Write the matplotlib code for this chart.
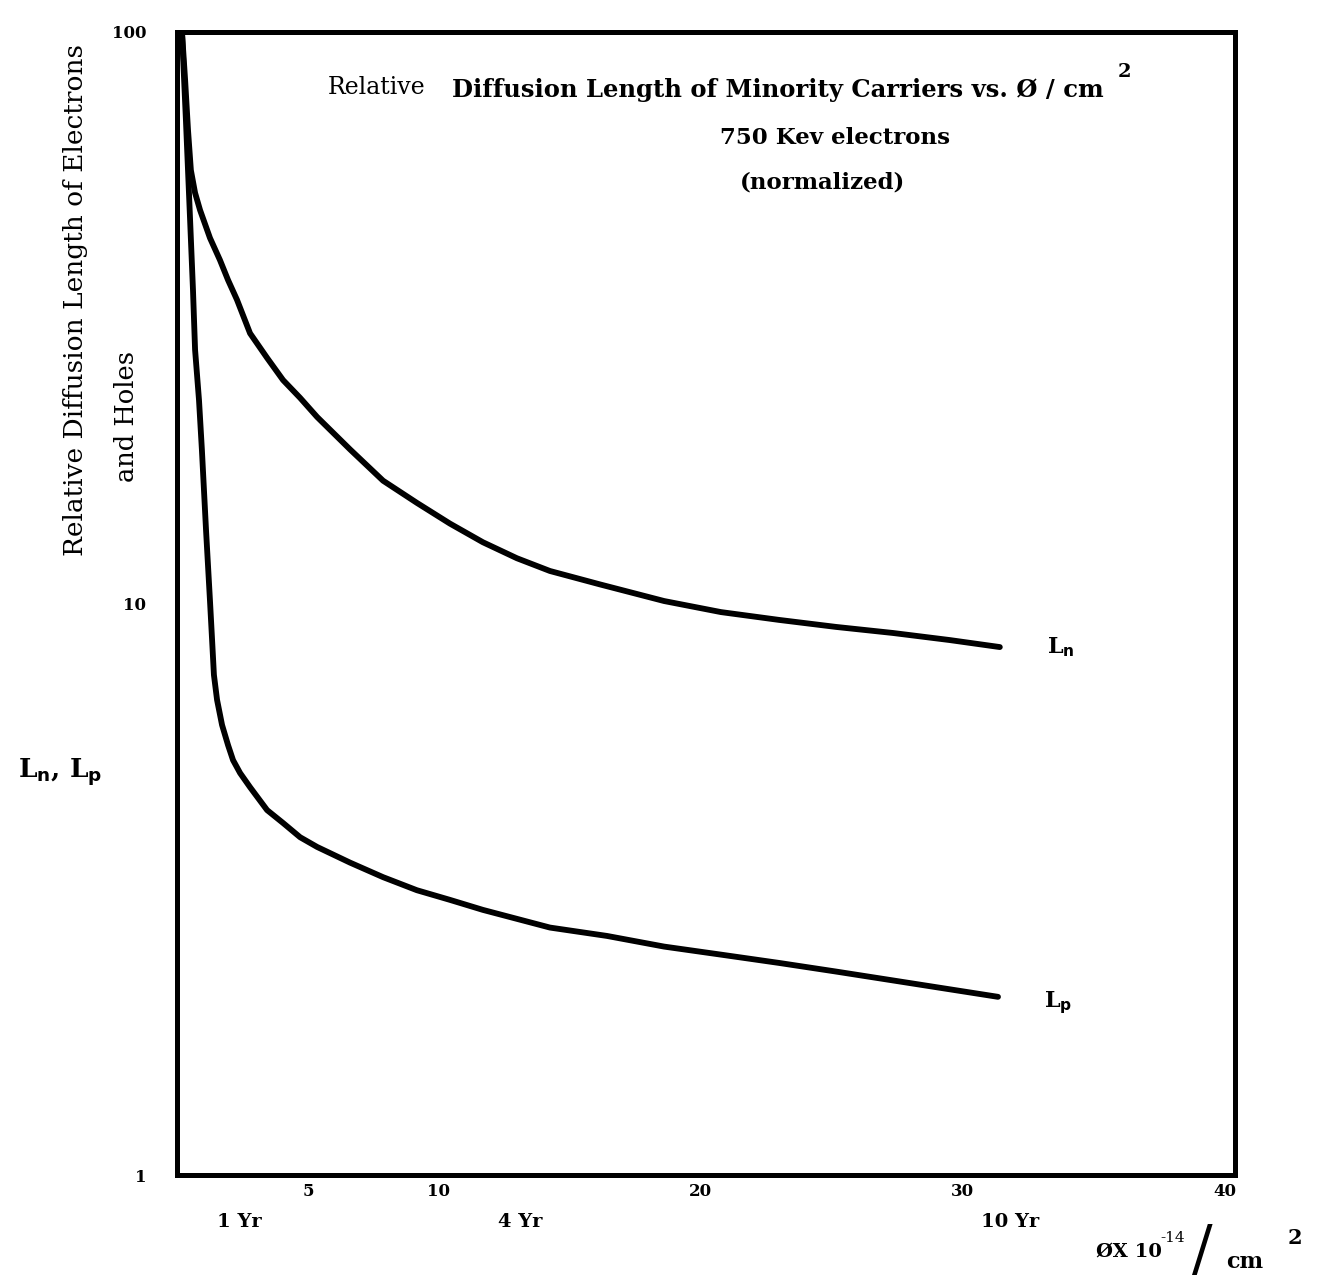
import numpy as np
import matplotlib
matplotlib.use('Agg')
import matplotlib.pyplot as plt
from matplotlib.ticker import NullLocator

# values (flux x 1e-14 per cm2, relative length)
ln_x = [0.19, 0.31, 0.42, 0.53, 0.69, 0.88, 1.26, 1.64, 1.95, 2.29, 2.79,
        3.44, 4.05, 4.70, 5.35, 6.61, 7.87, 9.16, 10.42, 11.68, 12.98,
        14.24, 16.15, 18.6, 20.77, 22.99, 25.16, 27.34, 29.51, 31.42]
ln_y = [100, 82.4, 67.4, 57.3, 52.3, 48.8, 43.6, 39.9, 36.8, 34.0, 29.7,
        26.9, 24.6, 22.9, 21.2, 18.6, 16.4, 15.0, 13.8, 12.8, 12.0,
        11.4, 10.8, 10.1, 9.66, 9.36, 9.10, 8.88, 8.63, 8.39]

lp_x = [0.19, 0.34, 0.50, 0.61, 0.69, 0.84, 0.95, 1.11, 1.26, 1.34, 1.41,
        1.53, 1.72, 1.95, 2.14, 2.41, 2.79, 3.44, 4.05, 4.70, 5.35, 6.61,
        7.87, 9.16, 10.42, 11.68, 14.24, 16.42, 18.6, 20.77, 22.99, 25.16,
        27.34, 31.35]
lp_y = [100, 70.2, 46.9, 35.4, 27.8, 22.7, 18.6, 13.4, 10.1, 8.63, 7.50,
        6.78, 6.13, 5.65, 5.32, 5.05, 4.77, 4.35, 4.13, 3.90, 3.75, 3.52,
        3.32, 3.15, 3.03, 2.91, 2.71, 2.62, 2.51, 2.43, 2.35, 2.27,
        2.19, 2.05]

x_ticks = [5, 10, 20, 30, 40]
y_ticks = [1, 10, 100]
year_pos = [2.4, 13.1, 31.8]
year_labels = ['1 Yr', '4 Yr', '10 Yr']

W, H = 1326, 1288
FONT = 'DejaVu Serif'
plt.rcParams['font.family'] = FONT

fig = plt.figure(figsize=(W / 100, H / 100), dpi=100)
ax = fig.add_axes([177 / W, 1 - 1175 / H, (1235 - 177) / W, (1175 - 32) / H])

for xs, ys in [(ln_x, ln_y), (lp_x, lp_y)]:
    ax.plot(xs, ys, color='black', lw=4.2, solid_capstyle='round',
            solid_joinstyle='round')

ax.set_yscale('log')
ax.set_xlim(0, 40.4)
ax.set_ylim(1, 100)
for s in ax.spines.values():
    s.set_linewidth(3.6)

ax.set_xticks(x_ticks)
ax.set_xticklabels([str(v) for v in x_ticks], fontweight='bold')
ax.tick_params(axis='x', length=0, pad=6, labelsize=12)
ax.set_yticks(y_ticks)
ax.set_yticklabels([str(v) for v in y_ticks], fontweight='bold')
ax.yaxis.set_minor_locator(NullLocator())
ax.tick_params(axis='y', length=0, pad=22, labelsize=12)

# year markers under the flux scale
for xp, lab in zip(year_pos, year_labels):
    ax.annotate(lab, xy=(xp, 0), xycoords=('data', 'axes fraction'),
                xytext=(0, -34), textcoords='offset points',
                ha='center', va='center', fontsize=14, fontweight='bold')

# curve labels
ax.annotate(r'L$_\mathbf{n}$', xy=(ln_x[-1], ln_y[-1]), xytext=(34, 0),
            textcoords='offset points', ha='left', va='center',
            fontsize=16, fontweight='bold')
ax.annotate(r'L$_\mathbf{p}$', xy=(lp_x[-1], lp_y[-1]), xytext=(33, -4),
            textcoords='offset points', ha='left', va='center',
            fontsize=16, fontweight='bold')

def fx(px):
    return px / W

def fy(py):
    return 1 - py / H

# title block inside the frame
fig.text(fx(328), fy(88), 'Relative', fontsize=17, ha='left', va='center')
fig.text(fx(452), fy(90), 'Diffusion Length of Minority Carriers vs. Ø / cm',
         fontsize=17.5, fontweight='bold', ha='left', va='center')
fig.text(fx(1118), fy(72), '2', fontsize=14, fontweight='bold',
         ha='left', va='center')
fig.text(fx(835), fy(138), '750 Kev electrons', fontsize=16.5,
         fontweight='bold', ha='center', va='center')
fig.text(fx(823), fy(183), '(normalized)', fontsize=16.5,
         fontweight='bold', ha='center', va='center')

# y axis labels
fig.text(fx(76), fy(300), 'Relative Diffusion Length of Electrons',
         fontsize=19, rotation=90, ha='center', va='center')
fig.text(fx(126), fy(416), 'and Holes', fontsize=18.5, rotation=90,
         ha='center', va='center')
fig.text(fx(60), fy(772), r'L$_\mathbf{n}$, L$_\mathbf{p}$', fontsize=19,
         fontweight='bold', ha='center', va='center')

# x axis unit label
fig.text(fx(1096), fy(1252), 'ØX 10', fontsize=14, fontweight='bold',
         ha='left', va='center')
fig.text(fx(1160), fy(1238), '-14', fontsize=11, ha='left', va='center')
fig.text(fx(1192), fy(1252), '/', fontsize=44, ha='left', va='center')
fig.text(fx(1226), fy(1262), 'cm', fontsize=16, fontweight='bold',
         ha='left', va='center')
fig.text(fx(1288), fy(1238), '2', fontsize=15, fontweight='bold',
         ha='left', va='center')

fig.savefig('out.png', dpi=100)
